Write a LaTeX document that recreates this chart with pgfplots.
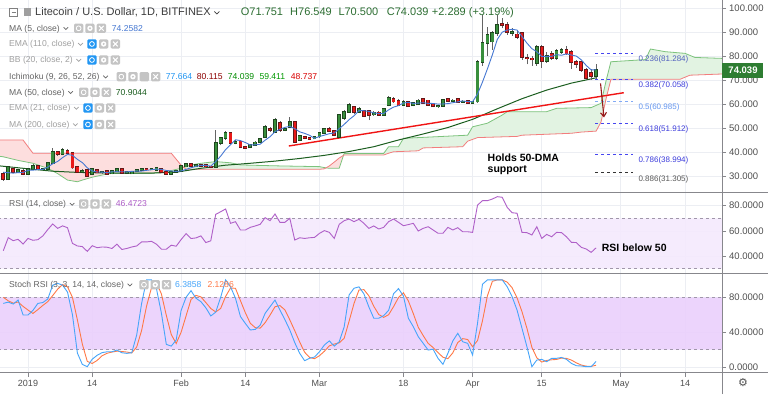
\documentclass[border=0pt]{standalone}
\usepackage{pgfplots}
\pgfplotsset{compat=1.18}
\usepackage{pgfplotstable}
\usetikzlibrary{arrows.meta}
\usepackage{fontspec}
\setmainfont{Liberation Sans}
\newfontfamily\djv{DejaVu Sans}

\definecolor{gridcol}{RGB}{236,238,243}
\definecolor{axiscol}{RGB}{135,135,140}
\definecolor{tickcol}{RGB}{80,80,80}
\definecolor{upfill}{RGB}{56,142,60}
\definecolor{upedge}{RGB}{30,70,30}
\definecolor{dnfill}{RGB}{232,25,25}
\definecolor{dnedge}{RGB}{100,25,25}
\definecolor{wick}{RGB}{100,100,100}
\definecolor{ma5}{RGB}{70,120,210}
\definecolor{ma50}{RGB}{28,94,32}
\definecolor{spanA}{RGB}{125,195,125}
\definecolor{spanB}{RGB}{242,125,125}
\definecolor{cloudG}{RGB}{226,243,226}
\definecolor{cloudR}{RGB}{253,222,222}
\definecolor{trend}{RGB}{240,20,20}
\definecolor{fibblue}{RGB}{70,70,240}
\definecolor{fiblight}{RGB}{130,170,245}
\definecolor{arrowred}{RGB}{150,25,25}
\definecolor{rsiline}{RGB}{175,95,200}
\definecolor{rsiband}{RGB}{244,233,253}
\definecolor{stband}{RGB}{234,208,252}
\definecolor{bandline}{RGB}{160,150,170}
\definecolor{kline}{RGB}{70,165,250}
\definecolor{dline}{RGB}{255,120,70}
\definecolor{lgtxt}{RGB}{100,100,100}
\definecolor{lghid}{RGB}{160,160,160}
\definecolor{icon}{RGB}{196,196,196}
\definecolor{iconblue}{RGB}{33,150,243}
\definecolor{ohlc}{RGB}{45,110,50}
\definecolor{titlecol}{RGB}{60,60,60}
\definecolor{pricegreen}{RGB}{46,125,50}

% all candles (for wicks)
\pgfplotstableread{
d O H L C
-5 31.0 31.8 28.0 28.6
-4 28.6 34.2 28.3 33.8
-3 33.0 33.6 31.2 31.7
-2 31.7 32.9 31.3 32.5
-1 32.2 32.8 30.3 30.8
0 30.8 33.3 30.5 33.0
1 32.8 34.8 32.5 34.2
2 34.2 34.5 32.3 32.8
3 32.8 33.4 32.3 33.1
4 32.8 35.9 32.5 35.5
5 35.3 41.5 35.0 40.1
6 40.1 40.6 38.5 39.0
7 39.0 41.6 38.6 40.8
8 40.3 41.2 39.2 39.6
9 39.6 40.2 33.0 33.5
10 33.9 34.3 31.4 31.8
11 31.8 32.8 31.3 32.2
12 32.5 32.9 29.8 30.1
13 30.7 33.1 30.3 32.8
14 32.6 33.0 31.2 31.4
15 31.5 32.2 31.0 31.8
16 32.1 32.4 30.6 30.9
17 31.0 32.3 30.7 32.0
18 32.0 33.5 31.7 33.0
19 32.8 33.0 30.9 31.2
20 31.3 31.9 30.9 31.6
21 31.0 32.2 30.7 31.9
22 31.9 32.8 31.5 32.5
23 32.3 33.3 32.0 33.0
24 33.0 33.5 32.5 32.7
25 32.7 33.2 32.3 33.0
26 32.6 33.4 32.2 33.2
27 33.1 33.3 31.5 31.8
28 31.8 32.1 30.5 30.8
29 30.8 32.1 30.6 31.8
30 31.8 32.4 31.5 32.1
31 32.0 34.5 31.8 34.1
32 33.9 35.6 33.7 35.1
33 35.0 35.3 33.8 34.2
34 34.2 35.0 33.8 34.6
35 34.6 35.0 34.0 34.3
36 34.5 34.9 33.5 33.9
37 34.0 34.3 33.3 33.7
38 33.7 49.0 33.5 43.7
39 43.7 46.3 42.8 45.8
40 45.8 48.6 45.2 48.0
41 48.0 48.3 43.2 43.8
42 43.8 44.8 43.2 44.2
43 44.4 44.9 41.6 42.0
44 42.0 42.6 41.2 41.7
45 41.9 43.4 41.6 43.0
46 43.0 44.4 42.6 44.0
47 44.0 45.9 43.7 45.5
48 46.2 51.3 45.8 50.4
49 49.6 50.5 48.5 49.0
50 48.3 54.0 48.0 53.3
51 52.0 52.8 48.5 49.0
52 49.0 50.2 48.6 49.6
53 50.4 54.7 50.0 52.5
54 52.5 53.0 44.0 44.2
55 45.0 47.2 44.5 46.7
56 46.3 46.8 45.4 45.8
57 45.8 46.4 45.2 45.5
58 45.6 46.5 45.3 46.2
59 46.4 48.5 46.0 48.0
60 48.0 50.0 47.7 49.5
61 49.5 50.3 48.3 48.8
62 48.8 49.2 46.5 47.0
63 46.3 56.0 46.0 55.4
64 54.2 57.5 53.5 56.7
65 56.7 60.5 56.3 59.6
66 58.8 59.2 56.0 56.7
67 56.6 58.7 56.2 58.0
68 57.2 57.6 54.5 55.0
69 57.0 57.4 53.3 55.3
70 55.6 56.9 55.2 56.5
71 56.5 57.0 55.0 55.5
72 55.5 58.5 55.2 58.0
73 59.6 63.2 59.0 62.5
74 62.2 62.8 60.6 61.0
75 61.4 62.0 59.2 59.6
76 59.6 61.5 59.2 61.0
77 61.0 61.4 58.8 59.2
78 59.4 60.9 59.0 60.5
79 59.8 62.0 59.5 61.5
80 62.0 62.4 60.2 60.5
81 61.5 61.8 59.3 59.6
82 60.0 60.3 58.6 59.0
83 59.0 59.6 58.5 59.3
84 59.2 62.2 59.0 61.8
85 62.0 62.4 60.8 61.2
86 61.2 61.9 61.0 61.5
87 62.0 62.3 60.5 60.8
88 60.8 61.5 60.5 61.1
89 61.2 61.6 60.2 60.5
90 60.5 61.3 60.3 60.8
91 61.0 78.2 60.5 77.6
92 77.6 97.0 76.0 85.6
93 85.4 92.0 80.0 88.7
94 86.0 90.5 82.5 89.6
95 89.6 97.0 88.5 93.0
96 93.2 96.0 91.5 92.8
97 93.0 94.0 88.8 90.0
98 89.5 91.5 88.5 90.2
99 89.0 90.5 87.0 88.0
100 89.6 90.0 78.5 79.6
101 79.3 81.0 76.5 79.0
102 79.0 80.0 76.0 78.5
103 77.0 84.5 76.0 83.8
104 83.8 84.6 75.0 78.0
105 78.0 81.5 77.2 80.0
106 81.0 82.0 78.5 79.0
107 79.0 82.8 78.5 82.0
108 81.5 83.5 81.0 82.5
109 82.5 84.0 80.5 81.0
110 81.7 82.5 74.5 77.5
111 77.5 78.5 75.0 76.8
112 77.5 78.0 73.5 74.2
113 74.2 75.0 70.0 70.8
114 73.0 74.5 70.2 71.75
115 71.751 76.549 70.5 74.039
}\ohlc

% rising candles
\pgfplotstableread{
d O C
-4 28.6 33.8
-2 31.7 32.5
0 30.8 33.0
1 32.8 34.2
3 32.8 33.1
4 32.8 35.5
5 35.3 40.1
7 39.0 40.8
11 31.8 32.2
13 30.7 32.8
15 31.5 31.8
17 31.0 32.0
18 32.0 33.0
20 31.3 31.6
21 31.0 31.9
22 31.9 32.5
23 32.3 33.0
25 32.7 33.0
26 32.6 33.2
29 30.8 31.8
30 31.8 32.1
31 32.0 34.1
32 33.9 35.1
34 34.2 34.6
38 33.7 43.7
39 43.7 45.8
40 45.8 48.0
42 43.8 44.2
45 41.9 43.0
46 43.0 44.0
47 44.0 45.5
48 46.2 50.4
50 48.3 53.3
52 49.0 49.6
53 50.4 52.5
55 45.0 46.7
58 45.6 46.2
59 46.4 48.0
60 48.0 49.5
63 46.3 55.4
64 54.2 56.7
65 56.7 59.6
67 56.6 58.0
70 55.6 56.5
72 55.5 58.0
73 59.6 62.5
76 59.6 61.0
78 59.4 60.5
79 59.8 61.5
83 59.0 59.3
84 59.2 61.8
86 61.2 61.5
88 60.8 61.1
90 60.5 60.8
91 61.0 77.6
92 77.6 85.6
93 85.4 88.7
94 86.0 89.6
95 89.6 93.0
98 89.5 90.2
103 77.0 83.8
105 78.0 80.0
107 79.0 82.0
108 81.5 82.5
115 71.751 74.039
}\upc

% falling candles
\pgfplotstableread{
d O C
-5 31.0 28.6
-3 33.0 31.7
-1 32.2 30.8
2 34.2 32.8
6 40.1 39.0
8 40.3 39.6
9 39.6 33.5
10 33.9 31.8
12 32.5 30.1
14 32.6 31.4
16 32.1 30.9
19 32.8 31.2
24 33.0 32.7
27 33.1 31.8
28 31.8 30.8
33 35.0 34.2
35 34.6 34.3
36 34.5 33.9
37 34.0 33.7
41 48.0 43.8
43 44.4 42.0
44 42.0 41.7
49 49.6 49.0
51 52.0 49.0
54 52.5 44.2
56 46.3 45.8
57 45.8 45.5
61 49.5 48.8
62 48.8 47.0
66 58.8 56.7
68 57.2 55.0
69 57.0 55.3
71 56.5 55.5
74 62.2 61.0
75 61.4 59.6
77 61.0 59.2
80 62.0 60.5
81 61.5 59.6
82 60.0 59.0
85 62.0 61.2
87 62.0 60.8
89 61.2 60.5
96 93.2 92.8
97 93.0 90.0
99 89.0 88.0
100 89.6 79.6
101 79.3 79.0
102 79.0 78.5
104 83.8 78.0
106 81.0 79.0
109 82.5 81.0
110 81.7 77.5
111 77.5 76.8
112 77.5 74.2
113 74.2 70.8
114 73.0 71.75
}\dnc

\pgfplotstableread{
d v
-5 31.6
-4 31.4
-3 31.2
-2 31.4
-1 31.48
0 32.36
1 32.44
2 32.66
3 32.74
4 33.68
5 35.1
6 36.06
7 37.66
8 39.0
9 38.6
10 36.94
11 35.58
12 33.44
13 32.08
14 31.66
15 31.64
16 31.38
17 31.76
18 31.8
19 31.76
20 31.74
21 31.94
22 32.04
23 32.04
24 32.36
25 32.62
26 32.88
27 32.74
28 32.3
29 32.1
30 31.92
31 32.1
32 32.76
33 33.44
34 33.98
35 34.44
36 34.4
37 34.12
38 36.02
39 38.28
40 41.02
41 43.0
42 45.1
43 44.76
44 43.94
45 42.94
46 42.98
47 43.24
48 44.92
49 46.38
50 48.44
51 49.44
52 50.26
53 50.68
54 49.72
55 48.4
56 47.76
57 46.96
58 45.7
59 46.46
60 47.02
61 47.62
62 47.9
63 49.74
64 51.48
65 53.5
66 55.08
67 57.28
68 57.2
69 56.92
70 56.3
71 56.06
72 56.06
73 57.56
74 58.7
75 59.32
76 60.42
77 60.66
78 60.26
79 60.36
80 60.54
81 60.26
82 60.22
83 59.96
84 60.02
85 60.16
86 60.54
87 60.9
88 61.28
89 61.02
90 60.94
91 64.16
92 69.12
93 74.64
94 80.46
95 86.9
96 89.94
97 90.82
98 91.12
99 90.8
100 88.12
101 85.36
102 83.06
103 81.78
104 79.78
105 79.86
106 79.86
107 80.56
108 80.3
109 80.9
110 80.4
111 79.96
112 78.4
113 76.06
114 74.21
115 74.26
}\mafive

\pgfplotstableread{
d v
-5.7 34.2
0 33.0
5 32.0
10 31.5
15 31.3
20 31.2
25 31.2
30 31.6
35 33.2
40 34.5
45 35.3
50 36.2
55 37.3
60 38.6
65 40.2
70 42.2
75 45.0
80 47.5
85 50.2
90 53.6
95 58.0
100 62.2
105 65.8
110 68.7
115 70.9
}\mafifty

\pgfplotstableread{
d v
-5.7 38.2
-5 38
-2 36.5
1 35.3
4 33.2
6 31
8 28.3
10 27.6
11 28.3
13 29.5
15 30.4
17 31.2
25 31.2
28 31.8
31 33.2
33 34.6
35 35.3
38 36
41 35.5
43 34.6
51 34.2
59 33.9
60 33.5
61 33.2
63 33.2
64 39.4
72 39.4
73 42.2
75 42.2
76 45.7
89 47
90 50.5
93 52
96 55.4
97 56.8
105 56.8
107 58.2
114 58.5
115 59.4
116 60.3
117 69.5
118 77.6
125 78.5
126 82.9
129 81.8
133 81.1
135 79.4
140.5 79
}\spanAtab

\pgfplotstableread{
d v
-5.7 45
-1 45
1 39.5
29 39.5
31 34.5
32 32.8
59 32.8
60 33.0
61 34.2
62 35.8
63 37.5
64 38.75
72 38.75
73 39.5
74 40.1
79 40.5
80 41.7
88 42.2
89 44.5
91 46
99 46.5
100 47
110 47.8
112 48.3
115 48.7
116 52.5
117 62
118 70.3
132 70.3
134 72
140.5 72.5
}\spanBtab

% cloud regions (span A forward, span B back)
\pgfplotstableread{
d v
-5.7 38.2
-5 38
-2 36.5
1 35.3
4 33.2
6 31
8 28.3
10 27.6
11 28.3
13 29.5
15 30.4
17 31.2
25 31.2
28 31.8
31 33.2
31.55 33.58
31 34.5
29 39.5
1 39.5
-1 45
-5.7 45
-5.7 38.2
}\cloudRa

\pgfplotstableread{
d v
31.55 33.58
33 34.6
35 35.3
38 36
41 35.5
43 34.6
51 34.2
59 33.9
60 33.5
60.33 33.4
60 33.0
59 32.8
32 32.8
31.55 33.58
}\cloudGa

\pgfplotstableread{
d v
60.33 33.4
61 33.2
63 33.2
63.87 38.6
63 37.5
62 35.8
61 34.2
60.33 33.4
}\cloudRb

\pgfplotstableread{
d v
63.87 38.6
64 39.4
72 39.4
73 42.2
75 42.2
76 45.7
89 47
90 50.5
93 52
96 55.4
97 56.8
105 56.8
107 58.2
114 58.5
115 59.4
116 60.3
117 69.5
118 77.6
125 78.5
126 82.9
129 81.8
133 81.1
135 79.4
140.5 79
140.5 72.5
134 72
132 70.3
118 70.3
117 62
116 52.5
115 48.7
112 48.3
110 47.8
100 47
99 46.5
91 46
89 44.5
88 42.2
80 41.7
79 40.5
74 40.1
73 39.5
72 38.75
64 38.75
63.87 38.6
}\cloudGb

\pgfplotstableread{
d v
-5 44.2
-4 54.6
-3 52.2
-2 53.3
-1 49.5
0 54
1 52.5
2 53
3 56
4 61
5 65.5
6 62
7 64
8 62.5
9 50
10 48
11 47.5
12 43.7
13 48.2
14 46.6
15 47.2
16 47
17 46
18 49.4
19 45.2
20 46
21 47.2
22 48
23 51.2
24 51.2
25 51.7
26 49.4
27 45.4
28 45.4
29 48.6
30 47.8
31 53.1
32 57.8
33 53.9
34 54.4
35 56
36 50.7
37 52.1
38 73.1
39 75.2
40 77.4
41 66
42 67.3
43 60.7
44 60.7
45 62.8
46 63.9
47 65.2
48 70.5
49 68.1
50 73.4
51 66.8
52 66.8
53 70
54 52.7
55 54.5
56 54
57 54.5
58 54.8
59 58
60 60.2
61 58.8
62 54
63 65.2
64 68.1
65 69.4
66 67.3
67 69.2
68 66
69 62
70 63.9
71 61.5
72 62.8
73 67.3
74 69.4
75 66.8
76 64.1
77 65
78 66
79 59.9
80 62
81 63.3
82 60.7
83 58.1
84 58.1
85 62.8
86 60.7
87 62.5
88 59.3
89 59.3
90 58.8
91 80.5
92 84
93 84
94 85.3
95 87.2
96 86.7
97 78.7
98 74.4
99 74
100 58.8
101 58.6
102 56.7
103 63.3
104 54
105 57.2
106 55.3
107 58.8
108 58.6
109 55.3
110 50.9
111 50.7
112 46.9
113 45.6
114 42.9
115 46.5
}\rsitab

\pgfplotstableread{
d K D
-5 73 80
-4 74.5 76
-3 72.3 73.3
-2 76.9 74.6
-1 59.7 69.6
0 59.7 65.4
1 65 61.5
2 73 65.9
3 74 70.7
4 78 75
5 94 82
6 96 89.3
7 94 94.7
8 86 92
9 60 80
10 16 54
11 3 26.3
12 0.4 6.5
13 9 4.1
14 13.5 7.6
15 16.5 13
16 17.5 15.8
17 17.5 17.2
18 19.5 18.2
19 16.4 17.8
20 15.7 17.2
21 16.4 16.2
22 36.7 22.9
23 73 42
24 100 69.9
25 100 91
26 90 96.7
27 62 84
28 26 59.3
29 24 37.3
30 31 27
31 65 40
32 80 58.7
33 87.6 77.5
34 79 82.2
35 75 80.5
36 68 74
37 58.6 67.2
38 63 63.2
39 80 67.2
40 100 81
41 92 90.7
42 79 90.3
43 58 76.3
44 50 62.3
45 42.5 50.2
46 43.2 45.2
47 48 44.6
48 61.6 50.9
49 69.2 59.6
50 76.9 69.2
51 65.4 70.5
52 54.5 65.6
53 42.5 54.1
54 28 41.7
55 15.7 28.7
56 7.3 17
57 10 11
58 11.5 9.6
59 17.5 13
60 25.3 18.1
61 30 24.3
62 24 26.4
63 29 27.7
64 46 33
65 82.7 52.6
66 90.4 73
67 92 88.4
68 84 88.8
69 69 81.7
70 56 69.7
71 56 60.3
72 59 57
73 65 60
74 84 69.3
75 90 79.7
76 81.5 85.2
77 56 75.8
78 46.3 61.3
79 34.8 45.7
80 27.2 36.1
81 19.5 27.2
82 20.5 22.4
83 10 16.7
84 3.1 11.2
85 15.7 9.6
86 30 16.3
87 38.7 28.1
88 29 32.6
89 27.2 31.6
90 13.8 23.3
91 50.2 30.4
92 95 53
93 100 81.7
94 100 98.3
95 100 100
96 100 100
97 92.2 97.4
98 80.7 91
99 65.4 79.4
100 44.4 63.5
101 23.3 44.4
102 0.4 22.7
103 8 10.6
104 8.8 5.7
105 6.1 7.6
106 10 8.3
107 10 8.7
108 11 10.3
109 8.8 9.9
110 4.2 8
111 1.5 4.8
112 1.2 2.3
113 0.4 1.0
114 0.4 0.7
115 6.4 2.1
}\stochtab

\pgfplotsset{tv/.style={
  scale only axis, width=722pt, xmin=-5.668, xmax=140.49,
  axis line style={draw=none},
  xtick={0,13,31,44,59,76,90,104,120,133},
  grid=major, major grid style={draw=gridcol, line width=0.7pt},
  ytick pos=right, yticklabel pos=right,
  tick align=outside, major tick length=4pt,
  tick style={draw=axiscol, line width=0.6pt},
  yticklabel style={font=\fontsize{9.5}{11}\selectfont, text=tickcol, anchor=west, inner sep=0pt, xshift=3pt},
  /pgf/number format/assume math mode=true,
  scaled y ticks=false,
}}
\pgfplotsset{candle/.style={draw=none, mark=none, error bars/.cd, y dir=plus, y explicit, error mark=none}}

\newcommand\lgfont{\fontsize{8.6}{10}\selectfont}
\newcommand\ico[3]{\fill[#1, rounded corners=1.2pt] ({#2},{394-#3-4.6}) rectangle ++(9.3,9.2);}
\newcommand\icoeye[2]{\draw[white, line width=0.8pt] ({#1+4.65},{394-#2}) circle (2.4);}
\newcommand\icogear[2]{\fill[white] ({#1+4.65},{394-#2}) circle (2.7); \fill[icon] ({#1+4.65},{394-#2}) circle (1.1);}
\newcommand\icox[2]{\draw[white, line width=1pt] ({#1+2.3},{394-#2-2.4}) -- ++(4.7,4.8) ({#1+2.3},{394-#2+2.4}) -- ++(4.7,-4.8);}
\newcommand\icorow[4]{\ico{icon}{#1}{#4}\icoeye{#1}{#4}\ico{icon}{#2}{#4}\icogear{#2}{#4}\ico{icon}{#3}{#4}\icox{#3}{#4}}
\newcommand\icorowb[4]{\ico{iconblue}{#1}{#4}\icoeye{#1}{#4}\ico{icon}{#2}{#4}\icogear{#2}{#4}\ico{icon}{#3}{#4}\icox{#3}{#4}}
\newcommand\lgline[3]{%
  \node[anchor=base west, inner sep=0, font=\lgfont, text=#3] (lg) at (9,{394-#1-3}) {#2};
  \draw[#3, line width=0.7pt] ([xshift=3.5pt,yshift=4pt]lg.base east) -- ++(2.3,-2.3) -- ++(2.3,2.3);}
\newcommand\lgval[4]{\node[anchor=base west, inner sep=0, font=\lgfont, text=#3] at ({#1},{394-#2-3}) {#4};}

\begin{document}
\begin{tikzpicture}[x=1pt,y=1pt]
\path[use as bounding box, fill=white] (0,0) rectangle (768,394);

% ---------------- main price panel ----------------
\begin{axis}[tv, at={(0pt,201.5pt)}, anchor=south west, height=192.5pt,
  ymin=23.125, ymax=103.333, ytick={30,40,...,100},
  yticklabel style={/pgf/number format/fixed, /pgf/number format/fixed zerofill, /pgf/number format/precision=3},
  xticklabels={}, xtick style={draw=none}]
  \addplot[draw=none, fill=cloudR] table[x=d,y=v]{\cloudRa};
  \addplot[draw=none, fill=cloudG] table[x=d,y=v]{\cloudGa};
  \addplot[draw=none, fill=cloudR] table[x=d,y=v]{\cloudRb};
  \addplot[draw=none, fill=cloudG] table[x=d,y=v]{\cloudGb};
  \addplot[spanA, line width=0.8pt] table[x=d,y=v]{\spanAtab};
  \addplot[spanB, line width=0.8pt] table[x=d,y=v]{\spanBtab};
  \addplot[ma50, line width=1pt] table[x=d,y=v]{\mafifty};
  \addplot[trend, line width=1.4pt] coordinates {(52.8,42.5) (120.6,64.7)};
  % wicks
  \addplot[candle, error bar style={draw=wick, line width=0.7pt}]
    table[x=d, y=L, y error expr=\thisrow{H}-\thisrow{L}]{\ohlc};
  % rising bodies
  \addplot[candle, error bar style={draw=upedge, line width=3.8pt}]
    table[x=d, y expr=\thisrow{O}-0.35, y error expr=\thisrow{C}-\thisrow{O}+0.7]{\upc};
  \addplot[candle, error bar style={draw=upfill, line width=2.4pt}]
    table[x=d, y=O, y error expr=\thisrow{C}-\thisrow{O}]{\upc};
  % falling bodies
  \addplot[candle, error bar style={draw=dnedge, line width=3.8pt}]
    table[x=d, y expr=\thisrow{C}-0.35, y error expr=\thisrow{O}-\thisrow{C}+0.7]{\dnc};
  \addplot[candle, error bar style={draw=dnfill, line width=2.4pt}]
    table[x=d, y=C, y error expr=\thisrow{O}-\thisrow{C}]{\dnc};
  \addplot[ma5, line width=0.9pt] table[x=d,y=v]{\mafive};
  % fib levels
  \addplot[fibblue, dashed, line width=0.8pt] coordinates {(114.8,81.284) (122.5,81.284)};
  \addplot[fibblue, dashed, line width=0.8pt] coordinates {(114.8,70.058) (122.5,70.058)};
  \addplot[fiblight, dashed, line width=0.8pt] coordinates {(114.8,60.985) (122.5,60.985)};
  \addplot[fibblue, dashed, line width=0.8pt] coordinates {(114.8,51.912) (122.5,51.912)};
  \addplot[fibblue, dashed, line width=0.8pt] coordinates {(114.8,38.994) (122.5,38.994)};
  \addplot[black!80, dashed, line width=0.8pt] coordinates {(114.8,31.305) (122.5,31.305)};
  \addplot[arrowred, line width=1.1pt, -{Straight Barb[length=4pt,width=6pt]}] coordinates {(115.9,68.6) (116.6,54.4)};
\end{axis}

% ---------------- RSI panel ----------------
\begin{axis}[tv, at={(0pt,121pt)}, anchor=south west, height=80.5pt,
  ymin=26.5, ymax=90.5, ytick={40,60,80},
  yticklabel style={/pgf/number format/fixed, /pgf/number format/fixed zerofill, /pgf/number format/precision=4},
  xticklabels={}, xtick style={draw=none}]
  \addplot[draw=none, fill=rsiband, fill opacity=0.9] coordinates {(-6,30) (141,30) (141,70) (-6,70) (-6,30)};
  \addplot[bandline, dashed, line width=0.6pt] coordinates {(-6,70) (141,70)};
  \addplot[bandline, dashed, line width=0.6pt] coordinates {(-6,30) (141,30)};
  \addplot[rsiline, line width=0.9pt] table[x=d,y=v]{\rsitab};
\end{axis}

% ---------------- Stoch RSI panel ----------------
\begin{axis}[tv, at={(0pt,21.3pt)}, anchor=south west, height=99.7pt,
  ymin=-6.5, ymax=107.9, ytick={0,40,80},
  yticklabel style={/pgf/number format/fixed, /pgf/number format/fixed zerofill, /pgf/number format/precision=4},
  xtick pos=bottom,
  xticklabels={2019,14,Feb,14,Mar,18,Apr,15,May,14},
  xticklabel style={font=\fontsize{9}{11}\selectfont, text=tickcol}]
  \addplot[draw=none, fill=stband, fill opacity=0.9] coordinates {(-6,20) (141,20) (141,80) (-6,80) (-6,20)};
  \addplot[bandline, dashed, line width=0.6pt] coordinates {(-6,80) (141,80)};
  \addplot[bandline, dashed, line width=0.6pt] coordinates {(-6,20) (141,20)};
  \addplot[dline, line width=0.9pt] table[x=d,y=D]{\stochtab};
  \addplot[kline, line width=0.9pt] table[x=d,y=K]{\stochtab};
\end{axis}

% separators
\draw[axiscol, line width=0.8pt] (0,{394-192.5}) -- (768,{394-192.5});
\draw[axiscol, line width=0.8pt] (0,{394-273}) -- (768,{394-273});
\draw[axiscol, line width=0.8pt] (0,{394-372.7}) -- (768,{394-372.7});
\draw[axiscol, line width=0.8pt] (722,0) -- (722,394);

% title line
\draw[gray, line width=0.7pt] (9.5,{394-16.5}) rectangle (17.5,{394-8.5});
\draw[gray, line width=0.7pt] (11.5,{394-12.5}) -- (15.5,{394-12.5});
\fill[gray!75] (24,{394-16.5}) rectangle (31,{394-8});
\node[anchor=base west, inner sep=0, font=\fontsize{11}{13}\selectfont, text=titlecol] (tt) at (35,{394-16}) {Litecoin / U.S. Dollar, 1D, BITFINEX};
\draw[titlecol, line width=0.7pt] ([xshift=3.5pt,yshift=4.5pt]tt.base east) -- ++(2.5,-2.5) -- ++(2.5,2.5);
\node[anchor=base west, inner sep=0, font=\fontsize{11}{13}\selectfont, text=ohlc] at (240.7,{394-16}) {O71.751};
\node[anchor=base west, inner sep=0, font=\fontsize{11}{13}\selectfont, text=ohlc] at (290,{394-16}) {H76.549};
\node[anchor=base west, inner sep=0, font=\fontsize{11}{13}\selectfont, text=ohlc] at (338.3,{394-16}) {L70.500};
\node[anchor=base west, inner sep=0, font=\fontsize{11}{13}\selectfont, text=ohlc] at (386.7,{394-16}) {C74.039};
\node[anchor=base west, inner sep=0, font=\fontsize{11}{13}\selectfont, text=ohlc] at (431.7,{394-16}) {+2.289 (+3.19\%)};

% indicator legends
\lgline{28.3}{MA (5, close)}{lgtxt}
\icorow{74}{85.3}{96.7}{28.3}
\lgval{111.7}{28.3}{ma5}{74.2582}
\lgline{44}{EMA (110, close)}{lghid}
\icorowb{87.3}{99}{110.7}{44}
\lgline{60}{BB (20, close, 2)}{lghid}
\icorowb{87.3}{99}{110.7}{60}
\lgline{76.7}{Ichimoku (9, 26, 52, 26)}{lgtxt}
\ico{icon}{116.7}{76.7}\icoeye{116.7}{76.7}\ico{icon}{128.3}{76.7}\icogear{128.3}{76.7}\ico{icon}{139.7}{76.7}\ico{icon}{151}{76.7}\icox{151}{76.7}
\lgval{165.7}{76.7}{iconblue}{77.664}
\lgval{196.7}{76.7}{red!55!black}{80.115}
\lgval{227.7}{76.7}{green!55!black}{74.039}
\lgval{259.3}{76.7}{green!60!black}{59.411}
\lgval{290.7}{76.7}{red!85!black}{48.737}
\lgline{92.3}{MA (50, close)}{lgtxt}
\icorow{79}{90.3}{101.7}{92.3}
\lgval{115.7}{92.3}{ma50}{70.9044}
\lgline{108}{EMA (21, close)}{lghid}
\icorowb{83.3}{94.7}{106}{108}
\lgline{124.5}{MA (200, close)}{lghid}
\icorowb{83.3}{94.7}{106}{124.5}

\lgline{204}{RSI (14, close)}{lgtxt}
\icorow{79}{90.3}{101.7}{204}
\lgval{115.7}{204}{rsiline}{46.4723}
\lgline{284.7}{Stoch RSI (3, 3, 14, 14, close)}{lgtxt}
\icorow{139.3}{150.6}{161.9}{284.7}
\lgval{175}{284.7}{kline}{6.3858}
\lgval{207.3}{284.7}{dline}{2.1286}

% fib labels
\node[anchor=west, inner sep=0, font=\fontsize{8}{9.5}\selectfont, text={rgb,255:red,80;green,95;blue,190}] at (638.3,{394-59.3}) {0.236(81.284)};
\node[anchor=west, inner sep=0, font=\fontsize{8}{9.5}\selectfont, text={rgb,255:red,60;green,60;blue,220}] at (638.3,{394-85.7}) {0.382(70.058)};
\node[anchor=west, inner sep=0, font=\fontsize{8}{9.5}\selectfont, text={rgb,255:red,100;green,150;blue,240}] at (638.3,{394-107.3}) {0.5(60.985)};
\node[anchor=west, inner sep=0, font=\fontsize{8}{9.5}\selectfont, text={rgb,255:red,60;green,60;blue,220}] at (638.3,{394-129}) {0.618(51.912)};
\node[anchor=west, inner sep=0, font=\fontsize{8}{9.5}\selectfont, text={rgb,255:red,60;green,60;blue,220}] at (638.3,{394-160}) {0.786(38.994)};
\node[anchor=west, inner sep=0, font=\fontsize{8}{9.5}\selectfont, text={rgb,255:red,90;green,90;blue,90}] at (638.3,{394-179}) {0.886(31.305)};

% annotations
\node[anchor=north west, align=left, inner sep=0, font=\bfseries\fontsize{10.5}{11}\selectfont] at (487.5,{394-154}) {Holds 50-DMA\\support};
\node[anchor=west, inner sep=0, font=\bfseries\fontsize{10.5}{12}\selectfont] at (601.7,{394-247.3}) {RSI below 50};

% last price label
\fill[pricegreen] (722,{394-78.3}) rectangle (763,{394-62.7});
\node[anchor=center, inner sep=0, font=\bfseries\fontsize{9.5}{11}\selectfont, text=white] at (743,{394-70.5}) {74.039};

% settings icon
\node[anchor=center, inner sep=0, font=\djv\fontsize{11}{12}\selectfont, text=tickcol] at (743,{394-383}) {⚙};
\end{tikzpicture}
\end{document}
